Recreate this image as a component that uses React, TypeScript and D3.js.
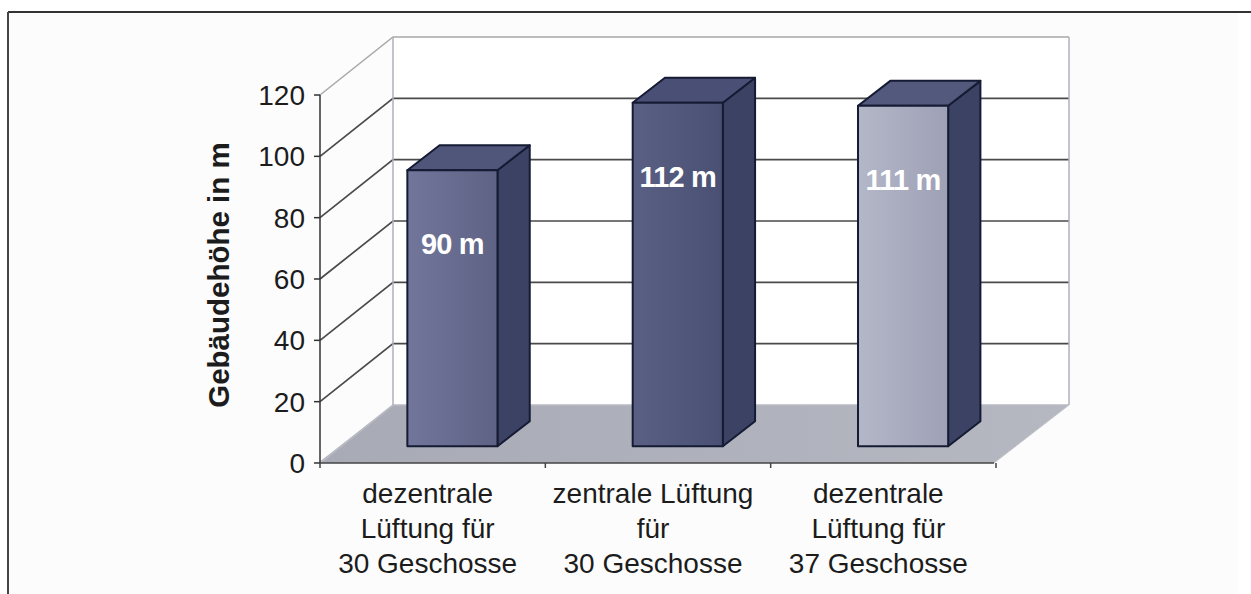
import React from "react";
import * as d3 from "d3";

// categories (multi-line labels) and values
const categories = ["dez30", "zen30", "dez37"];
const categoryLines = [
  ["dezentrale", "Lüftung für", "30 Geschosse"],
  ["zentrale Lüftung", "für", "30 Geschosse"],
  ["dezentrale", "Lüftung für", "37 Geschosse"],
];
const heights = [90, 112, 111];
const valueLabels = ["90 m", "112 m", "111 m"];
const yTicks = [0, 20, 40, 60, 80, 100, 120];
const yTitle = "Gebäudehöhe in m";

const frontColors = [
  ["#72769a", "#5e6386"],
  ["#5a6084", "#4a5073"],
  ["#b4b7c8", "#9ea1b6"],
];
const topColors = ["#50567a", "#4a5075", "#53597c"];
const sideColor = "#3c4264";
const outline = "#161b34";

const W = 1251;
const H = 594;
const DX = 75; // depth offset
const DY = -58;
const Z0 = 0.29;
const Z1 = 0.72;

const App = () => {
  const y = d3.scaleLinear().domain([0, 120]).range([463, 95]);
  const x = d3.scaleBand().domain(categories).range([318, 994]);
  const bw = x.bandwidth() / 2.5;
  const font = "'Liberation Sans', Arial, Helvetica, sans-serif";
  const x0 = x.range()[0];
  const x1 = x.range()[1];
  const pt = (px: number, py: number, z: number) => [px + DX * z, py + DY * z];
  const poly = (pts: number[][]) => pts.map((p) => p.join(",")).join(" ");

  return (
    <svg width={W} height={H} style={{ position: "absolute", left: 0, top: 0 }}>
      <defs>
        {frontColors.map((c, i) => (
          <linearGradient key={i} id={"fg" + i} x1="0" x2="1" y1="0" y2="0">
            <stop offset="0" stopColor={c[0]} />
            <stop offset="1" stopColor={c[1]} />
          </linearGradient>
        ))}
        <linearGradient id="floor" x1="0" x2="1" y1="0" y2="0">
          <stop offset="0" stopColor="#a8aab5" />
          <stop offset="1" stopColor="#b5b7c1" />
        </linearGradient>
      </defs>
      <rect x={8} y={12} width={1230} height={H - 12} fill="#fcfcfc" />
      <line x1={8} y1={12} x2={W} y2={12} stroke="#333" strokeWidth={2} />
      <line x1={8} y1={12} x2={8} y2={H} stroke="#444" strokeWidth={2} />

      {/* back wall */}
      <rect x={x0 + DX} y={y(120) + DY} width={x1 - x0} height={y(0) - y(120)} fill="#fff" />
      {/* floor */}
      <polygon
        points={poly([pt(x0, y(0), 0), pt(x1, y(0), 0), pt(x1, y(0), 1), pt(x0, y(0), 1)])}
        fill="url(#floor)"
      />
      {/* gridlines */}
      {yTicks.map((t) => {
        const a = pt(x0 + 2, y(t), 0);
        const b = pt(x0, y(t), 1);
        const c = pt(x1, y(t), 1);
        const top = t === 120;
        const col = t === 0 ? "#b9bbc4" : top ? "#a8a8a8" : "#4a4a4a";
        return (
          <polyline
            key={t}
            points={poly([a, b, c])}
            fill="none"
            stroke={col}
            strokeWidth={top ? 1.5 : 1.7}
          />
        );
      })}
      <line x1={x0 + DX} y1={y(120) + DY} x2={x0 + DX} y2={y(0) + DY} stroke="#b0b0b8" strokeWidth={1.5} />
      <line x1={x1 + DX} y1={y(120) + DY} x2={x1 + DX} y2={y(0) + DY} stroke="#b0b0b8" strokeWidth={1.5} />
      <polyline
        points={poly([pt(x1, y(0), 0), pt(x1, y(0), 1)])}
        fill="none"
        stroke="#c4c5cc"
        strokeWidth={1}
      />

      {/* bars */}
      {categories.map((c, i) => {
        const cx = (x(c) as number) + x.bandwidth() / 2;
        const l = cx - bw / 2;
        const r = cx + bw / 2;
        const yt = y(heights[i]);
        const yb = y(0);
        const front = [pt(l, yt, Z0), pt(r, yt, Z0), pt(r, yb, Z0), pt(l, yb, Z0)];
        const side = [pt(r, yt, Z0), pt(r, yt, Z1), pt(r, yb, Z1), pt(r, yb, Z0)];
        const topF = [pt(l, yt, Z0), pt(l, yt, Z1), pt(r, yt, Z1), pt(r, yt, Z0)];
        const fc = pt(cx, yt, Z0);
        return (
          <g key={c}>
            <polygon points={poly(side)} fill={sideColor} stroke={outline} strokeWidth={2} strokeLinejoin="round" />
            <polygon points={poly(topF)} fill={topColors[i]} stroke={outline} strokeWidth={2} strokeLinejoin="round" />
            <polygon points={poly(front)} fill={`url(#fg${i})`} stroke={outline} strokeWidth={2} strokeLinejoin="round" />
            <text
              x={fc[0]}
              y={fc[1] + 84}
              textAnchor="middle"
              fontFamily={font}
              fontWeight="bold"
              fontSize={29}
              fill="#fff"
              letterSpacing={-0.8}
            >
              {valueLabels[i]}
            </text>
          </g>
        );
      })}

      {/* y axis */}
      <line x1={x0 + 2} y1={y(0)} x2={x0 + 2} y2={y(120)} stroke="#333" strokeWidth={1.5} />
      {yTicks.map((t) => (
        <g key={t}>
          <line x1={x0 - 4} x2={x0 + 2} y1={y(t)} y2={y(t)} stroke="#333" strokeWidth={1.5} />
          <text
            x={x0 - 13}
            y={y(t)}
            dy="0.36em"
            textAnchor="end"
            fontFamily={font}
            fontSize={28}
            fill="#1c1c1c"
          >
            {t}
          </text>
        </g>
      ))}
      <text
        transform={`translate(229,${(y(0) + y(120)) / 2 - 4}) rotate(-90)`}
        textAnchor="middle"
        fontFamily={font}
        fontWeight="bold"
        fontSize={29.5}
        fill="#1c1c1c"
      >
        {yTitle}
      </text>

      {/* x axis */}
      <line x1={x0 + 2} x2={x1} y1={y(0)} y2={y(0)} stroke="#444" strokeWidth={1.5} />
      {[...categories.map((c) => x(c) as number), x1].map((v, i) => (
        <line key={i} x1={v + 2} x2={v + 2} y1={y(0)} y2={y(0) + 5} stroke="#444" strokeWidth={1.5} />
      ))}
      {categories.map((c, i) => (
        <text
          key={c}
          textAnchor="middle"
          fontFamily={font}
          fontSize={28}
          fill="#1c1c1c"
        >
          {categoryLines[i].map((ln, j) => (
            <tspan key={j} x={(x(c) as number) + x.bandwidth() / 2 - 3} y={503 + j * 35}>
              {ln}
            </tspan>
          ))}
        </text>
      ))}
    </svg>
  );
};

export default App;
